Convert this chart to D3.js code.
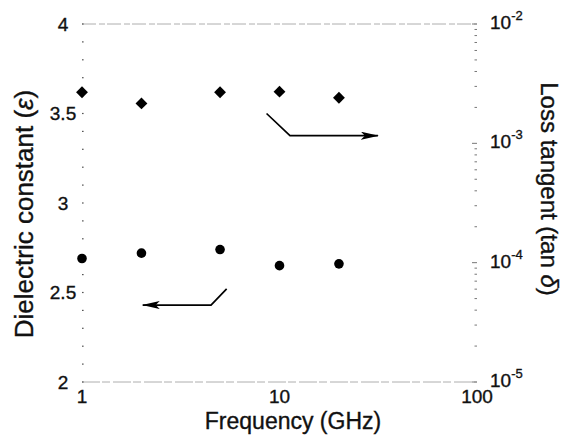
<!DOCTYPE html>
<html>
<head>
<meta charset="utf-8">
<script src="https://cdn.jsdelivr.net/npm/d3@7/dist/d3.min.js"></script>
<style>
  body { margin: 0; background: #fff; }
  text { font-family: "Liberation Sans", Arial, sans-serif; fill: #111; stroke: #111; stroke-width: 0.35; }
</style>
</head>
<body>
<svg class="chart"></svg>
<script>

// Chart data.
var freq = [1, 2, 5, 10, 20];
var dielectric = [2.69, 2.72, 2.74, 2.65, 2.66];
var lossTangent = [2.68e-3, 2.16e-3, 2.68e-3, 2.71e-3, 2.41e-3];

var xTicks = [1, 10, 100];
var leftTicks = [2, 2.5, 3, 3.5, 4];
var rightTicks = [1e-5, 1e-4, 1e-3, 1e-2];
var rightTickExp = ["-5", "-4", "-3", "-2"];

// Annotation arrows, in data units (frequency, dielectric constant).
var arrowToRight = [[8.6, 3.50], [11.3, 3.376], [31.5, 3.376]];
var arrowToLeft = [[5.4, 2.52], [4.5, 2.43], [2.03, 2.43]];

var margin = {top: 24, right: 88, bottom: 53, left: 82},
    width = 565 - margin.left - margin.right,
    height = 435 - margin.top - margin.bottom;

var svg = d3.select(".chart")
    .attr("width", 565)
    .attr("height", 435);

var chart = svg.append("g")
    .attr("transform", "translate(" + margin.left + "," + margin.top + ")");

var x = d3.scaleLog().domain([1, 100]).range([0, width]);
var yLeft = d3.scaleLinear().domain([2, 4]).range([height, 0]);
var yRight = d3.scaleLog().domain([1e-5, 1e-2]).range([height, 0]);

// Faint frame lines (top and bottom).
chart.append("line")
    .attr("x1", 0).attr("x2", width)
    .attr("y1", 0).attr("y2", 0)
    .attr("stroke", "#9a9a9a")
    .attr("stroke-width", 0.8)
    .attr("stroke-dasharray", "14,3,6,2");
chart.append("line")
    .attr("x1", 0).attr("x2", width)
    .attr("y1", height).attr("y2", height)
    .attr("stroke", "#9a9a9a")
    .attr("stroke-width", 0.8)
    .attr("stroke-dasharray", "18,2,8,3");

// Left axis: only small dotted ticks, no line.
var leftMinor = d3.range(20, 41).map(function(d) { return d / 10; });
chart.append("g")
    .selectAll("rect")
    .data(leftMinor)
    .enter().append("rect")
      .attr("x", 0)
      .attr("y", function(d) { return yLeft(d) - 0.6; })
      .attr("width", 1.6)
      .attr("height", 1.2)
      .attr("fill", "#555");

chart.append("g")
    .selectAll("text")
    .data(leftTicks)
    .enter().append("text")
      .attr("x", -19)
      .attr("y", function(d) { return yLeft(d); })
      .attr("dy", "0.36em")
      .attr("text-anchor", "middle")
      .style("font-size", "19px")
      .text(function(d) { return d; });

// Right axis: log ticks, faint.
var rightMinor = [];
rightTicks.slice(0, 3).forEach(function(t) {
  for (var k = 1; k < 10; k++) rightMinor.push(t * k);
});
rightMinor.push(1e-2);
chart.append("g")
    .selectAll("line")
    .data(rightMinor)
    .enter().append("line")
      .attr("x1", width)
      .attr("x2", function(d, i) { return i % 9 === 0 ? width - 5 : width - 2.5; })
      .attr("y1", function(d) { return yRight(d); })
      .attr("y2", function(d) { return yRight(d); })
      .attr("stroke", "#777")
      .attr("stroke-width", 1);

var rightLabels = chart.append("g")
    .selectAll("text")
    .data(rightTicks)
    .enter().append("text")
      .attr("x", width + 13)
      .attr("y", function(d) { return yRight(d) + 5; })
      .style("font-size", "19px");
rightLabels.append("tspan").text("10");
rightLabels.append("tspan")
    .attr("dy", -9)
    .style("font-size", "13px")
    .text(function(d, i) { return rightTickExp[i]; });

// Bottom axis labels.
chart.append("g")
    .selectAll("text")
    .data(xTicks)
    .enter().append("text")
      .attr("x", function(d) { return x(d); })
      .attr("y", height + 21)
      .attr("text-anchor", "middle")
      .style("font-size", "19px")
      .text(function(d) { return d; });

// Axis titles.
svg.append("text")
    .attr("x", margin.left + 211)
    .attr("y", 429)
    .attr("text-anchor", "middle")
    .style("font-size", "23px")
    .text("Frequency (GHz)");

var leftTitle = svg.append("text")
    .attr("transform", "translate(33,214) rotate(-90)")
    .attr("text-anchor", "middle")
    .style("font-size", "26px");
leftTitle.append("tspan").text("Dielectric constant (");
leftTitle.append("tspan").style("font-style", "italic").text("ε");
leftTitle.append("tspan").text(")");

var rightTitle = svg.append("text")
    .attr("transform", "translate(541,189) rotate(90)")
    .attr("text-anchor", "middle")
    .style("font-size", "24px");
rightTitle.append("tspan").text("Loss tangent (tan ");
rightTitle.append("tspan").style("font-style", "italic").text("δ");
rightTitle.append("tspan").text(")");

// Markers: diamonds = loss tangent, circles = dielectric constant.
chart.append("g")
    .selectAll("path")
    .data(lossTangent)
    .enter().append("path")
      .attr("d", d3.symbol().type(d3.symbolSquare).size(70))
      .attr("transform", function(d, i) {
        return "translate(" + x(freq[i]) + "," + yRight(d) + ") rotate(45)";
      })
      .attr("fill", "#000");

chart.append("g")
    .selectAll("circle")
    .data(dielectric)
    .enter().append("circle")
      .attr("cx", function(d, i) { return x(freq[i]); })
      .attr("cy", function(d) { return yLeft(d); })
      .attr("r", 4.8)
      .attr("fill", "#000");

// Arrows.
svg.append("defs").append("marker")
    .attr("id", "head")
    .attr("viewBox", "0 0 18 8")
    .attr("refX", 17)
    .attr("refY", 4)
    .attr("markerWidth", 18)
    .attr("markerHeight", 8)
    .attr("markerUnits", "userSpaceOnUse")
    .attr("orient", "auto")
  .append("path")
    .attr("d", "M0,0 L18,4 L0,8 L4,4 Z")
    .attr("fill", "#000");

var arrowLine = d3.line()
    .x(function(d) { return x(d[0]); })
    .y(function(d) { return yLeft(d[1]); });

[arrowToRight, arrowToLeft].forEach(function(a) {
  chart.append("path")
      .attr("d", arrowLine(a))
      .attr("fill", "none")
      .attr("stroke", "#000")
      .attr("stroke-width", 1.7)
      .attr("marker-end", "url(#head)");
});

</script>
</body>
</html>
